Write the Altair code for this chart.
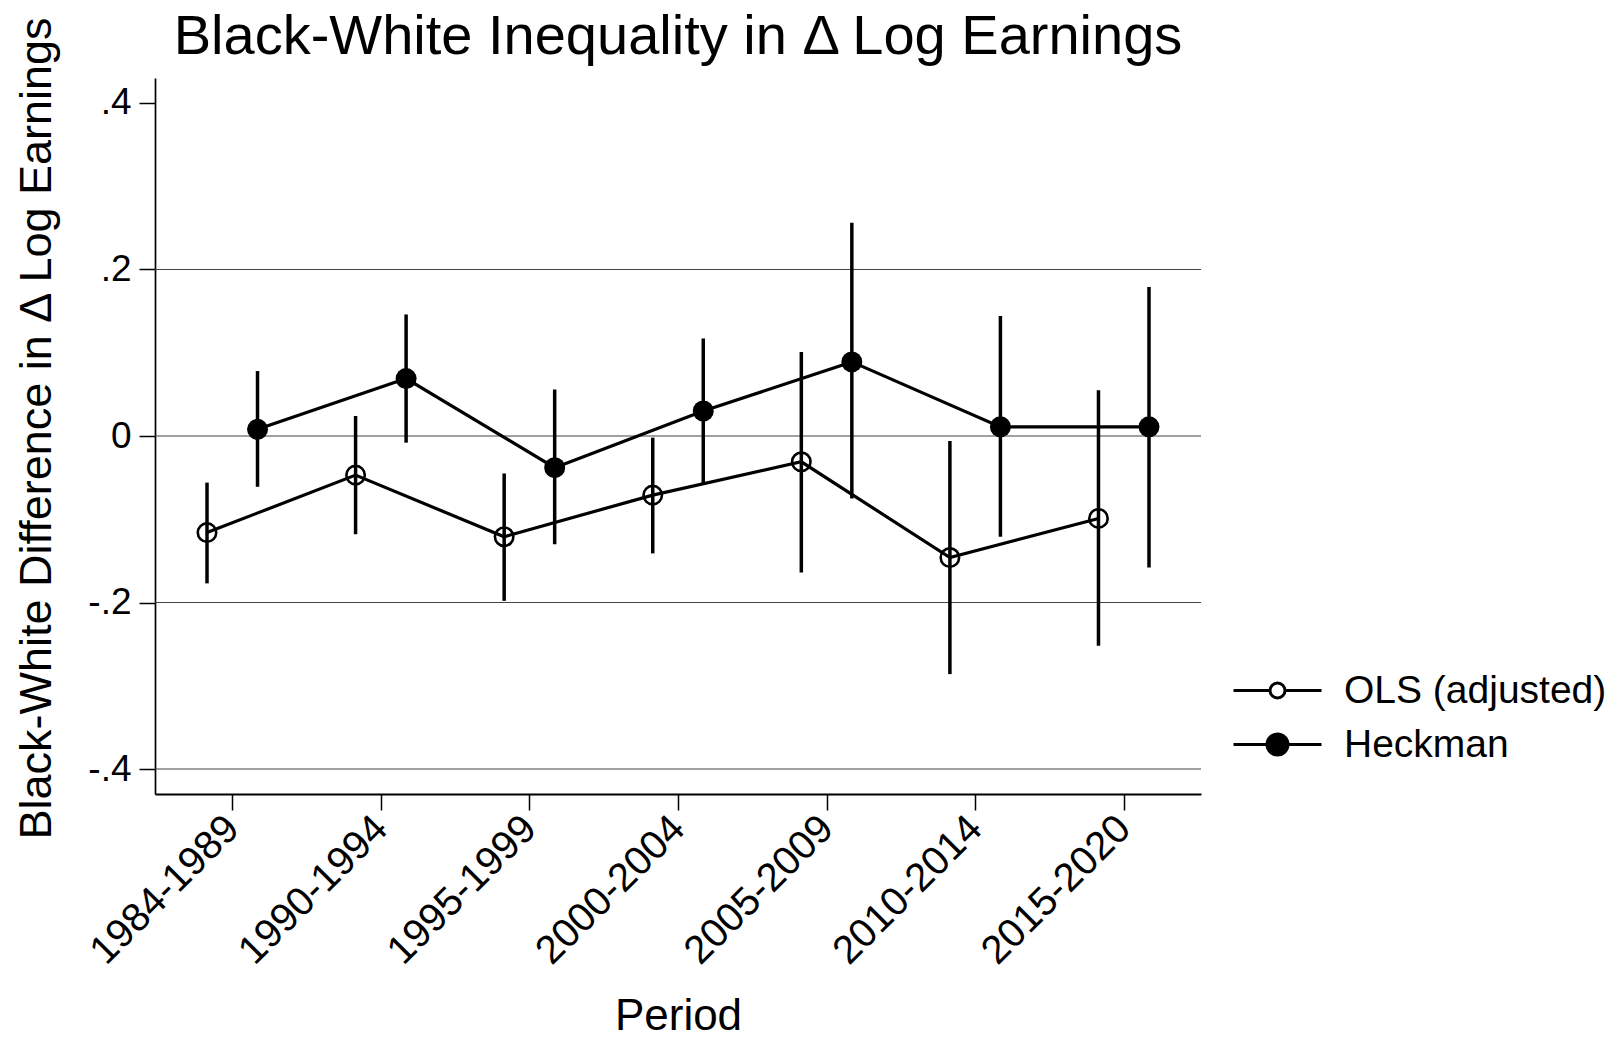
import altair as alt
import pandas as pd

# ---- data ----
periods = ["1984-1989", "1990-1994", "1995-1999", "2000-2004",
           "2005-2009", "2010-2014", "2015-2020"]
series_names = ["OLS (adjusted)", "Heckman"]

ols_est = [-0.116, -0.047, -0.121, -0.071, -0.031, -0.146, -0.099]
ols_lo = [-0.177, -0.118, -0.198, -0.141, -0.164, -0.286, -0.252]
ols_hi = [-0.056, 0.024, -0.045, -0.002, 0.101, -0.006, 0.055]

heck_est = [0.008, 0.069, -0.038, 0.030, 0.089, 0.011, 0.011]
heck_lo = [-0.061, -0.008, -0.130, -0.057, -0.075, -0.121, -0.158]
heck_hi = [0.078, 0.146, 0.056, 0.117, 0.256, 0.144, 0.179]

y_ticks = [-0.4, -0.2, 0.0, 0.2, 0.4]
y_tick_labels = ["-.4", "-.2", "0", ".2", ".4"]
grid_values = [0.2, 0.0, -0.2, -0.4]

# ---- tables ----
offsets = {"OLS (adjusted)": -0.17, "Heckman": 0.17}
rows = []
for name, est, lo, hi in [("OLS (adjusted)", ols_est, ols_lo, ols_hi),
                          ("Heckman", heck_est, heck_lo, heck_hi)]:
    for i, p in enumerate(periods):
        rows.append({"period": p, "series": name, "xpos": i + 1 + offsets[name],
                     "est": est[i], "lo": lo[i], "hi": hi[i]})
df = pd.DataFrame(rows)
grid_df = pd.DataFrame({"g": grid_values})

FONT = "Liberation Sans"
W, H = 1046, 716
xscale = alt.Scale(domain=[0.48, 7.52], nice=False, zero=False)
yscale = alt.Scale(domain=[-0.43, 0.43], nice=False, zero=False)

periods_js = "[" + ",".join("'%s'" % p for p in periods) + "]"
ylab_js = "[" + ",".join("'%s'" % s for s in y_tick_labels) + "]"

x_axis = alt.Axis(
    values=list(range(1, len(periods) + 1)),
    labelExpr=periods_js + "[round(datum.value) - 1]",
    labelAngle=-45, labelAlign="right", labelBaseline="middle",
    labelFont=FONT, labelFontSize=40, labelColor="black", labelPadding=12,
    labelOverlap=False, labelBound=False, labelFlush=False, labelLimit=0,
    tickSize=16, tickWidth=1.5, tickColor="black",
    domainColor="black", domainWidth=2,
    grid=False, title="Period", titleFont=FONT, titleFontSize=44,
    titleFontWeight="normal", titleColor="black",
    titleBaseline="alphabetic", titleX=W / 2, titleY=235,
)
y_axis = alt.Axis(
    values=y_ticks,
    labelExpr=ylab_js + "[round(datum.value * 5 + 2)]",
    labelFont=FONT, labelFontSize=37, labelColor="black", labelPadding=8,
    labelOverlap=False,
    tickSize=16, tickWidth=1.5, tickColor="black",
    domainColor="black", domainWidth=1.7,
    grid=False, title="Black-White Difference in Δ Log Earnings",
    titleFont=FONT, titleFontSize=45, titleFontWeight="normal",
    titleColor="black", titleBaseline="alphabetic", titleAngle=270,
    titleX=-105, titleY=350,
)

X = lambda f: alt.X(f, scale=xscale, axis=x_axis)
Y = lambda f: alt.Y(f, scale=yscale, axis=y_axis)

base = alt.Chart(df)

grid = alt.Chart(grid_df).mark_rule(color="#444444", strokeWidth=1.2).encode(
    y=Y("g:Q")
)

ci = base.mark_rule(color="black", strokeWidth=3.5).encode(
    x=X("xpos:Q"), y=Y("lo:Q"), y2="hi:Q",
)

lines = base.mark_line(color="black", strokeWidth=3.2).encode(
    x=X("xpos:Q"), y=Y("est:Q"), detail="series:N",
)

heck_pts = base.transform_filter(alt.datum.series == "Heckman").mark_point(
    shape="circle", filled=True, color="black", size=441, opacity=1
).encode(x=X("xpos:Q"), y=Y("est:Q"))

ols_pts = base.transform_filter(alt.datum.series == "OLS (adjusted)").mark_point(
    shape="circle", filled=False, color="black", strokeWidth=2.6, size=340, opacity=1
).encode(x=X("xpos:Q"), y=Y("est:Q"))

# legend-only layer: line with a marker in the middle
ols_sym = ("M-4.4,0L-0.75,0M0.75,0L4.4,0"
           "M0.75,0A0.75,0.75 0 1,1 -0.75,0A0.75,0.75 0 1,1 0.75,0Z")
heck_sym = ("M-4.4,0L4.4,0"
            "M1.05,0A1.05,1.05 0 1,1 -1.05,0A1.05,1.05 0 1,1 1.05,0Z")

legend = alt.Legend(
    title=None, orient="none", legendX=1103, legendY=593,
    labelFont=FONT, labelFontSize=39, labelColor="black", labelLimit=0,
    symbolSize=400, symbolStrokeWidth=3, symbolOpacity=1,
    labelOffset=47, rowPadding=14, padding=0,
)
legend_layer = base.transform_filter("false").mark_point(opacity=1).encode(
    x=X("xpos:Q"), y=Y("est:Q"),
    shape=alt.Shape("series:N", scale=alt.Scale(domain=series_names,
                                                range=[ols_sym, heck_sym]),
                    legend=legend),
    fill=alt.Fill("series:N", scale=alt.Scale(domain=series_names,
                                              range=["white", "black"]),
                  legend=legend),
    stroke=alt.Stroke("series:N", scale=alt.Scale(domain=series_names,
                                                  range=["black", "black"]),
                      legend=legend),
)

chart = alt.layer(grid, ci, lines, ols_pts, heck_pts, legend_layer).properties(
    width=W, height=H,
    title=alt.TitleParams("Black-White Inequality in Δ Log Earnings",
                          font=FONT, fontSize=56, fontWeight="normal",
                          color="black", anchor="middle", frame="group",
                          dy=54),
    autosize=alt.AutoSizeParams(type="none"),
    padding={"left": 147, "top": 70, "right": 412, "bottom": 240},
    background="white",
).configure_view(stroke="transparent", strokeWidth=0)

chart.save("out.html", embed_options={"renderer": "svg", "actions": False})
